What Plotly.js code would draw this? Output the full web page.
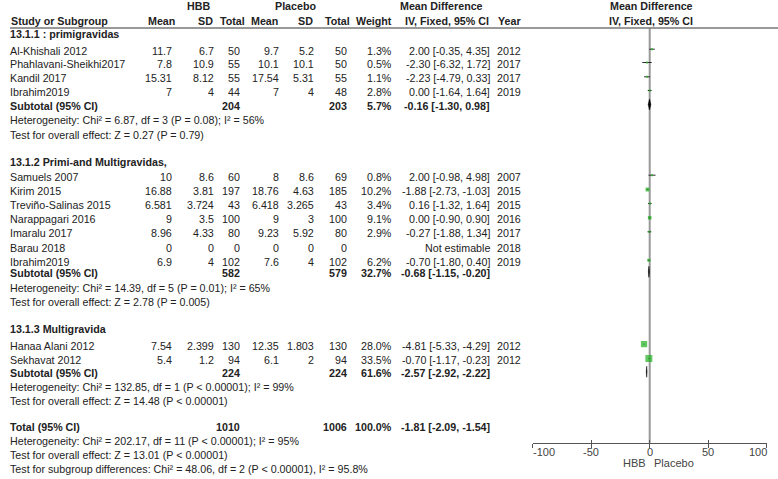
<!DOCTYPE html>
<html><head><meta charset="utf-8">
<script src="https://cdn.plot.ly/plotly-3.0.1.min.js"></script>
<style>html,body{margin:0;padding:0;background:#fff}#chart{width:778px;height:479px}</style>
</head><body><div id="chart"></div>
<script>
// ---------------- DATA ----------------
const studyNames = ["Al-Khishali 2012","Phahlavani-Sheikhi2017","Kandil 2017","Ibrahim2019",
  "Samuels 2007","Kirim 2015","Treviño-Salinas 2015","Narappagari 2016","Imaralu 2017","Barau 2018","Ibrahim2019",
  "Hanaa Alani 2012","Sekhavat 2012"];
const studyGroup = [0,0,0,0, 1,1,1,1,1,1,1, 2,2];
const hbbMean  = [11.7,7.8,15.31,7, 10,16.88,6.581,9,8.96,0,6.9, 7.54,5.4];
const hbbSD    = [6.7,10.9,8.12,4, 8.6,3.81,3.724,3.5,4.33,0,4, 2.399,1.2];
const hbbTotal = [50,55,55,44, 60,197,43,100,80,0,102, 130,94];
const plcMean  = [9.7,10.1,17.54,7, 8,18.76,6.418,9,9.23,0,7.6, 12.35,6.1];
const plcSD    = [5.2,10.1,5.31,4, 8.6,4.63,3.265,3,5.92,0,4, 1.803,2];
const plcTotal = [50,50,55,48, 69,185,43,100,80,0,102, 130,94];
const weight   = [1.3,0.5,1.1,2.8, 0.8,10.2,3.4,9.1,2.9,null,6.2, 28.0,33.5];
const meanDiff = [2.00,-2.30,-2.23,0.00, 2.00,-1.88,0.16,0.00,-0.27,null,-0.70, -4.81,-0.70];
const ciLow    = [-0.35,-6.32,-4.79,-1.64, -0.98,-2.73,-1.32,-0.90,-1.88,null,-1.80, -5.33,-1.17];
const ciHigh   = [4.35,1.72,0.33,1.64, 4.98,-1.03,1.64,0.90,1.34,null,0.40, -4.29,-0.23];
const years    = [2012,2017,2017,2019, 2007,2015,2015,2016,2017,2018,2019, 2012,2012];

const groupTitles = ["13.1.1 : primigravidas","13.1.2 Primi-and Multigravidas,","13.1.3 Multigravida"];
const subHbbTotal = [204,582,224];
const subPlcTotal = [203,579,224];
const subWeight   = [5.7,32.7,61.6];
const subMD       = [-0.16,-0.68,-2.57];
const subLow      = [-1.30,-1.15,-2.92];
const subHigh     = [0.98,-0.20,-2.22];
const hetChi = [6.87,14.39,132.85];
const hetDf  = [3,5,1];
const hetP   = ["= 0.08","= 0.01","< 0.00001"];
const hetI2  = ["56%","65%","99%"];
const zVal   = [0.27,2.78,14.48];
const zP     = ["= 0.79","= 0.005","< 0.00001"];

const totalHbb = 1010, totalPlc = 1006, totalWeight = "100.0%";
const totalMD = -1.81, totalLow = -2.09, totalHigh = -1.54;
const totalHetText = "Heterogeneity: Chi² = 202.17, df = 11 (P < 0.00001); I² = 95%";
const totalTestText = "Test for overall effect: Z = 13.01 (P < 0.00001)";
const subDiffText = "Test for subgroup differences: Chi² = 48.06, df = 2 (P < 0.00001), I² = 95.8%";

const xTicks = [-100,-50,0,50,100];
const favourLabels = ["HBB","Placebo"];

// ---------------- LAYOUT CONSTANTS ----------------
const W = 778, H = 479;
const FONT = "Liberation Sans, Arial, sans-serif";
const FS = 10.7;
const TC = "#222";
const yHead1 = 5.5, yHead2 = 20.5, yRule = 28;
const yTitle = [34.3, 161.7, 329.3];
const yStudy = [50.7,64,78.3,92, 176.7,191,205,219.3,233.3,247.7,261.7, 345.7,360];
const ySub = [106, 273.3, 373.3];
const yHet = [120, 288.3, 387.3];
const yTest = [135, 302.3, 401];
const yTotal = 426.7, yTotHet = 440.7, yTotTest = 455, ySubDiff = 469;
const markShift = -1.5;
const yAxisLine = 442.7;
const col = {name:10, hM:172, hS:214, hT:240, pM:278.5, pS:313.5, pT:347, wt:392, ci:489.5, yr:497};

const fmt2 = v => v.toFixed(2);
const ciStr = (m,l,h) => fmt2(m) + " [" + fmt2(l) + ", " + fmt2(h) + "]";

const ann = [];
function T(xpx, y, text, anchor, bold, extra) {
  ann.push(Object.assign({
    xref:"paper", yref:"y", x:xpx/W, y:y, text: bold ? "<b>"+text+"</b>" : text,
    xanchor:anchor||"left", yanchor:"middle", showarrow:false, borderpad:0, borderwidth:0,
    font:{family:FONT, size:FS, color:TC}
  }, extra||{}));
}

// headers
T(198, yHead1, "HBB", "center", true);
T(295, yHead1, "Placebo", "center", true);
T(441, yHead1, "Mean Difference", "center", true);
T(651, yHead1, "Mean Difference", "center", true);
T(11, yHead2, "Study or Subgroup", "left", true);
T(175, yHead2, "Mean", "right", true);
T(212.5, yHead2, "SD", "right", true);
T(244.5, yHead2, "Total", "right", true);
T(278, yHead2, "Mean", "right", true);
T(313, yHead2, "SD", "right", true);
T(350, yHead2, "Total", "right", true);
T(392, yHead2, "Weight", "right", true);
T(489, yHead2, "IV, Fixed, 95% CI", "right", true);
T(498, yHead2, "Year", "left", true);
T(651, yHead2, "IV, Fixed, 95% CI", "center", true);

// groups
for (let g = 0; g < 3; g++) {
  T(col.name, yTitle[g], groupTitles[g], "left", true);
  T(col.name, ySub[g], "Subtotal (95% CI)", "left", true);
  T(col.hT, ySub[g], String(subHbbTotal[g]), "right", true);
  T(col.pT, ySub[g], String(subPlcTotal[g]), "right", true);
  T(col.wt, ySub[g], subWeight[g].toFixed(1) + "%", "right", true);
  T(col.ci, ySub[g], ciStr(subMD[g], subLow[g], subHigh[g]), "right", true);
  T(col.name, yHet[g], "Heterogeneity: Chi² = " + hetChi[g] + ", df = " + hetDf[g] + " (P " + hetP[g] + "); I² = " + hetI2[g], "left");
  T(col.name, yTest[g], "Test for overall effect: Z = " + zVal[g].toFixed(2) + " (P " + zP[g] + ")", "left");
}
// studies
for (let i = 0; i < studyNames.length; i++) {
  const y = yStudy[i];
  T(col.name, y, studyNames[i], "left");
  T(col.hM, y, String(hbbMean[i]), "right");
  T(col.hS, y, String(hbbSD[i]), "right");
  T(col.hT, y, String(hbbTotal[i]), "right");
  T(col.pM, y, String(plcMean[i]), "right");
  T(col.pS, y, String(plcSD[i]), "right");
  T(col.pT, y, String(plcTotal[i]), "right");
  if (weight[i] !== null) {
    T(col.wt, y, weight[i].toFixed(1) + "%", "right");
    T(col.ci, y, ciStr(meanDiff[i], ciLow[i], ciHigh[i]), "right");
  } else {
    T(col.ci, y, "Not estimable", "right");
  }
  T(col.yr, y, String(years[i]), "left");
}
// total
T(col.name, yTotal, "Total (95% CI)", "left", true);
T(col.hT, yTotal, String(totalHbb), "right", true);
T(col.pT, yTotal, String(totalPlc), "right", true);
T(col.wt, yTotal, totalWeight, "right", true);
T(col.ci, yTotal, ciStr(totalMD, totalLow, totalHigh), "right", true);
T(col.name, yTotHet, totalHetText, "left");
T(col.name, yTotTest, totalTestText, "left");
T(col.name, ySubDiff, subDiffText, "left");

// axis tick labels (via x axis)
xTicks.forEach((v, k) => {
  ann.push({xref:"x", yref:"y", x:v, y:451.7, text:String(v), showarrow:false,
    xanchor: k === 0 ? "left" : (k === xTicks.length-1 ? "right" : "center"), yanchor:"middle",
    borderpad:0, borderwidth:0, font:{family:FONT, size:11, color:"#444"}});
});
ann.push({xref:"x", yref:"y", x:-3.4, y:463.3, text:favourLabels[0], showarrow:false, xanchor:"right", yanchor:"middle",
  borderpad:0, borderwidth:0, font:{family:FONT, size:11, color:"#444"}});
ann.push({xref:"x", yref:"y", x:3.4, y:463.3, text:favourLabels[1], showarrow:false, xanchor:"left", yanchor:"middle",
  borderpad:0, borderwidth:0, font:{family:FONT, size:11, color:"#444"}});

// ---------------- TRACES ----------------
const traces = [];
// CI lines
const lx = [], ly = [];
for (let i = 0; i < studyNames.length; i++) {
  if (meanDiff[i] === null) continue;
  const y = yStudy[i] + markShift;
  lx.push(ciLow[i], ciHigh[i], null); ly.push(y, y, null);
}
traces.push({type:"scatter", mode:"lines", x:lx, y:ly, line:{color:"#2a2a2a", width:1}, hoverinfo:"skip", showlegend:false});
// squares
const sx = [], sy = [], ss = [];
for (let i = 0; i < studyNames.length; i++) {
  if (meanDiff[i] === null) continue;
  sx.push(meanDiff[i]); sy.push(yStudy[i] + markShift);
  ss.push(Math.max(2, 1.2 * Math.sqrt(weight[i])));
}
traces.push({type:"scatter", mode:"markers", x:sx, y:sy,
  marker:{symbol:"square", size:ss, color:"#1fb01f", line:{width:0}}, hoverinfo:"skip", showlegend:false});
// diamonds
for (let g = 0; g < 3; g++) {
  const yc = ySub[g] + markShift, h = 5.5;
  traces.push({type:"scatter", mode:"lines", fill:"toself", fillcolor:"#000",
    x:[subLow[g], subMD[g], subHigh[g], subMD[g], subLow[g]],
    y:[yc, yc-h, yc, yc+h, yc], line:{color:"#000", width:0.5}, hoverinfo:"skip", showlegend:false});
}
// dummy for inner tick axis
traces.push({type:"scatter", mode:"markers", x:[0], y:[-50], xaxis:"x2", marker:{opacity:0}, hoverinfo:"skip", showlegend:false});

const dom = [532.7/W, 766.7/W];
const axPos = 1 - yAxisLine/H;
const layout = {
  width:W, height:H, margin:{l:0,r:0,t:0,b:0}, paper_bgcolor:"#fff", plot_bgcolor:"rgba(0,0,0,0)",
  showlegend:false,
  xaxis:{domain:dom, range:[-100,100], anchor:"free", position:axPos, showgrid:false, zeroline:false,
    showline:true, linecolor:"#555", linewidth:1, ticks:"outside", ticklen:4, tickwidth:1, tickcolor:"#555",
    tickvals:xTicks, showticklabels:false, fixedrange:true},
  xaxis2:{domain:dom, range:[-100,100], overlaying:"x", anchor:"free", position:axPos, showgrid:false, zeroline:false,
    showline:false, ticks:"inside", ticklen:3, tickwidth:1, tickcolor:"#555", tickvals:xTicks, showticklabels:false, fixedrange:true},
  yaxis:{domain:[0,1], range:[H,0], visible:false, fixedrange:true},
  annotations: ann,
  shapes:[
    {type:"line", xref:"paper", yref:"y", x0:10/W, x1:1, y0:yRule, y1:yRule, line:{color:"#777", width:1.5}},
    {type:"line", xref:"x", yref:"y", x0:0, x1:0, y0:yRule, y1:yAxisLine, line:{color:"#999", width:2}, layer:"below"}
  ]
};
Plotly.newPlot("chart", traces, layout, {staticPlot:true, displayModeBar:false});
</script>
</body></html>
